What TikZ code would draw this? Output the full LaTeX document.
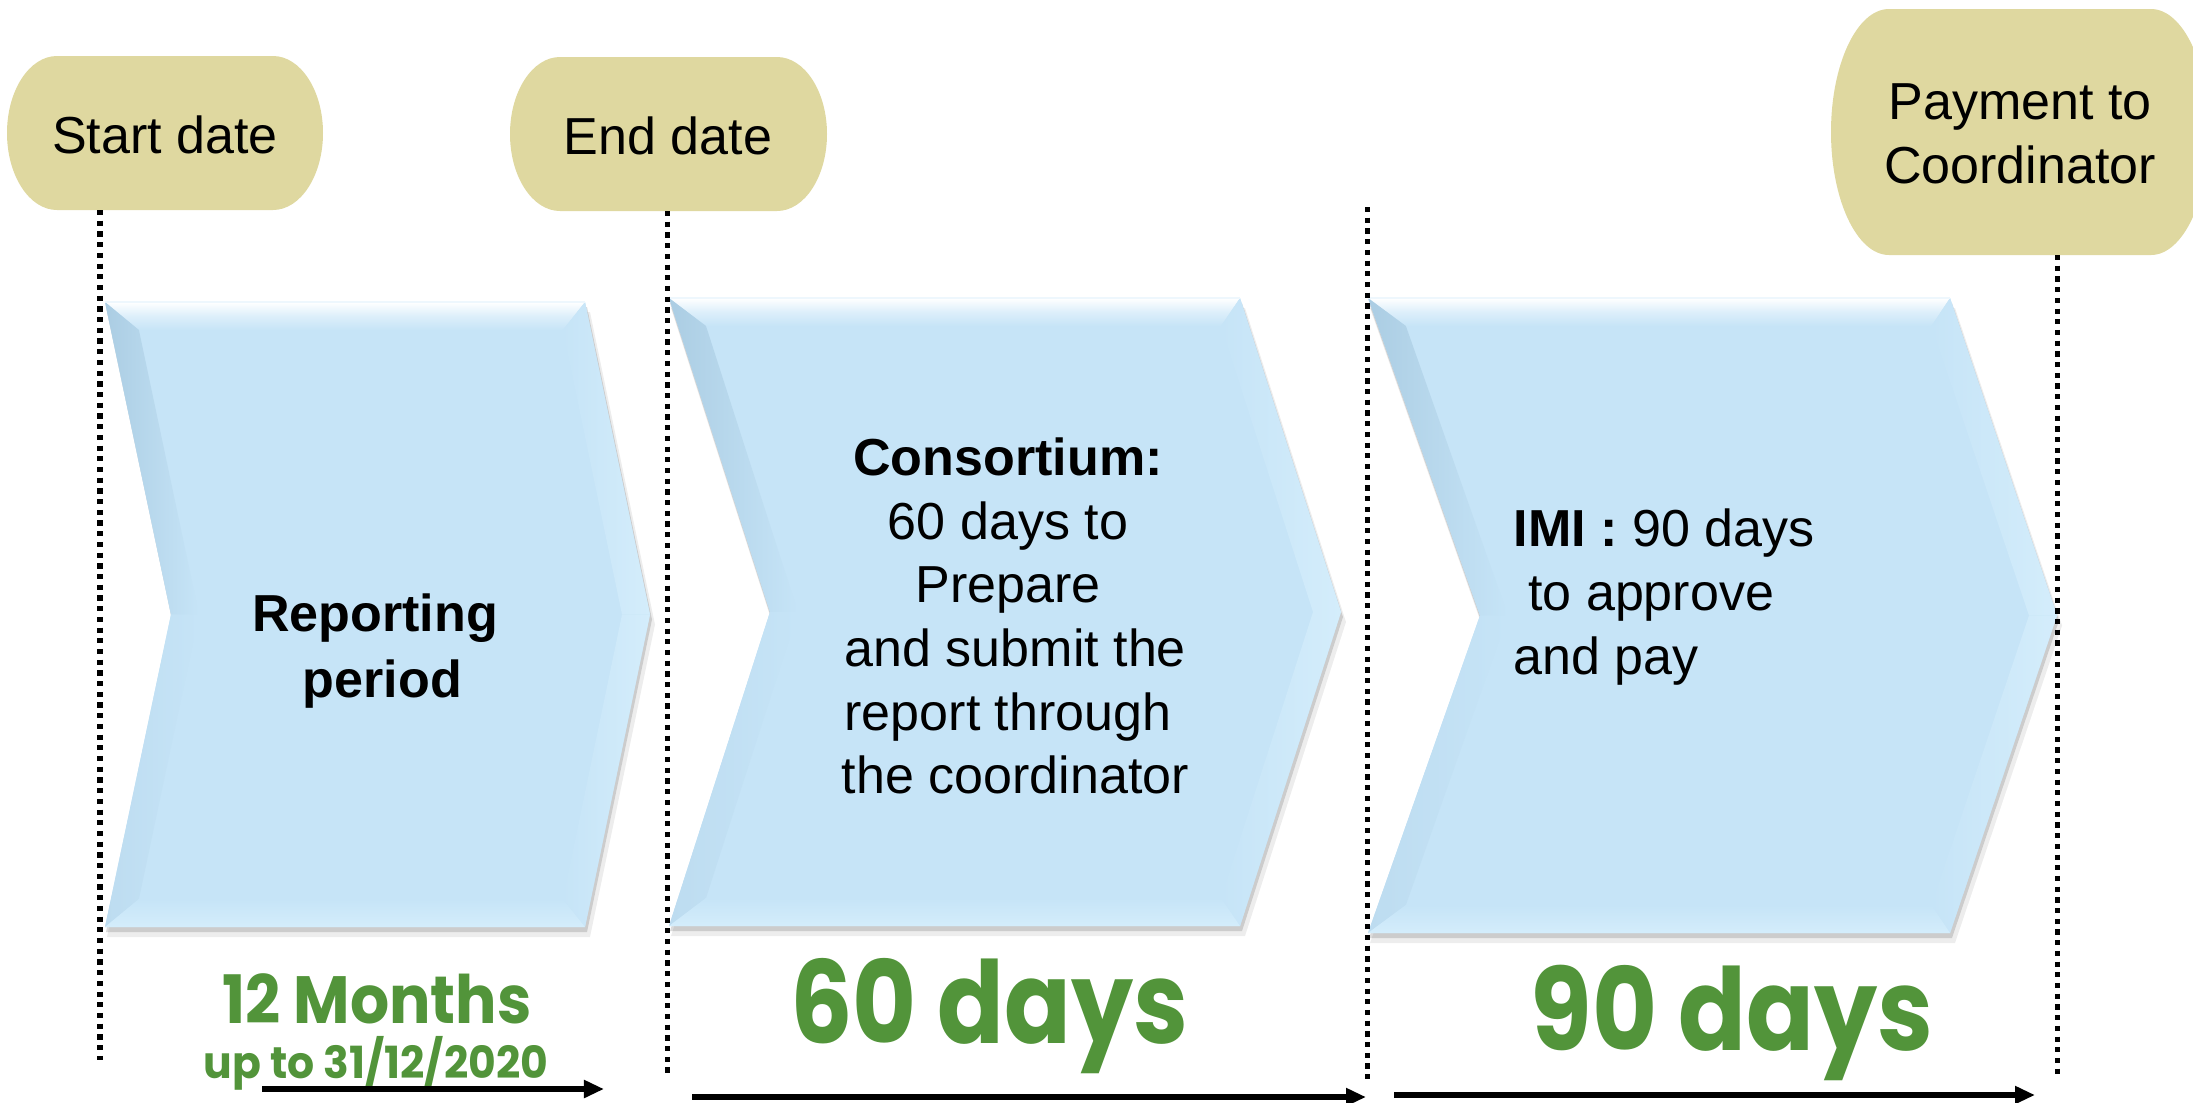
\documentclass[tikz,border=0pt]{standalone}
\usepackage{fontspec}
\setmainfont{Liberation Sans}
\newfontfamily\popfont{Poppins}
\usetikzlibrary{arrows.meta,calc}
\definecolor{capfill}{HTML}{DFD8A0}
\definecolor{chevfill}{HTML}{C6E4F7}
\definecolor{chevdark}{HTML}{ABCDE3}
\definecolor{chevmid}{HTML}{BDDCF0}
\definecolor{chevlight}{HTML}{D4EDFB}
\definecolor{grn}{HTML}{52943A}

% capsule: x0 y0 x1 y1 rx
\newcommand{\mycapsule}[5]{%
  \fill[capfill] (#1+#5,#2) -- (#3-#5,#2)
    arc[start angle=-90,end angle=90,x radius=#5,y radius={(#4-#2)/2}]
    -- (#1+#5,#4)
    arc[start angle=90,end angle=270,x radius=#5,y radius={(#4-#2)/2}] -- cycle;
}
% chevron: x0 y0 x1 y1 notchdepth tipdepth
\newcommand{\mychev}[6]{%
  \pgfmathsetmacro{\chYm}{(#2+#4)/2}%
  \pgfmathsetmacro{\chHh}{(#4-#2)/2}%
  \pgfmathsetmacro{\chBv}{28}%
  \pgfmathsetmacro{\chLo}{\chBv+#5*\chBv/\chHh}%
  \pgfmathsetmacro{\chRo}{#6*\chBv/\chHh-\chBv}%
  \fill[black,opacity=0.07] (#1+2,#2+10) -- (#3+5,#2+10) -- (#3+#6+5,\chYm+10) -- (#3+5,#4+10) -- (#1+2,#4+10) -- (#1+#5+2,\chYm+10) -- cycle;
  \fill[black,opacity=0.14] (#1+1,#2+5) -- (#3+2,#2+5) -- (#3+#6+2,\chYm+5) -- (#3+2,#4+5) -- (#1+1,#4+5) -- (#1+#5+1,\chYm+5) -- cycle;
  \fill[chevfill] (#1,#2) -- (#3,#2) -- (#3+#6,\chYm) -- (#3,#4) -- (#1,#4) -- (#1+#5,\chYm) -- cycle;
  \shade[top color=white, bottom color=chevfill, middle color=white!40!chevfill] (#1,#2) -- (#3,#2) -- (#3+\chRo,#2+\chBv) -- (#1+\chLo,#2+\chBv) -- cycle;
  \shade[left color=chevdark, right color=chevfill] (#1,#2) -- (#1+\chLo,#2+\chBv) -- (#1+#5+\chBv,\chYm) -- (#1+#5,\chYm) -- cycle;
  \shade[left color=chevmid, right color=chevfill] (#1+#5,\chYm) -- (#1+#5+\chBv,\chYm) -- (#1+\chLo,#4-\chBv) -- (#1,#4) -- cycle;
  \shade[left color=chevfill, right color=chevlight] (#3,#2) -- (#3+#6,\chYm) -- (#3+#6-\chBv,\chYm) -- (#3+\chRo,#2+\chBv) -- cycle;
  \shade[left color=chevfill, right color=chevlight] (#3+#6,\chYm) -- (#3,#4) -- (#3+\chRo,#4-\chBv) -- (#3+#6-\chBv,\chYm) -- cycle;
  \shade[top color=chevfill, bottom color=chevlight] (#1,#4) -- (#3,#4) -- (#3+\chRo,#4-\chBv) -- (#1+\chLo,#4-\chBv) -- cycle;
  \draw[white!70!chevfill, line width=0.02cm] (#1,#2) -- (#3,#2);
}

\begin{document}
\begin{tikzpicture}[x=0.01cm,y=-0.01cm,
  dotline/.style={line width=0.05cm, dash pattern=on 0.052cm off 0.055cm},
  tarrow/.style={line width=0.06cm, -{Triangle[length=0.2cm,width=0.17cm]}},
  captext/.style={font=\fontsize{14.8pt}{18.2pt}\selectfont, align=center, inner sep=0pt},
  chevtext/.style={font=\fontsize{14.8pt}{18.1pt}\selectfont, inner sep=0pt},
  grnlbl/.style={text=grn, inner sep=0pt, anchor=base},
]
\path[use as bounding box] (0,0) rectangle (2193,1102);
\clip (0,0) rectangle (2193,1102);

% capsules
\mycapsule{7}{56}{323}{210}{50}
\mycapsule{510}{57}{827}{211}{50}
\mycapsule{1831}{9}{2209}{255}{58}
\node[captext, minimum width=3.16cm, minimum height=1.54cm] (start) at (165,135) {Start date};
\node[captext, minimum width=3.17cm, minimum height=1.54cm] (end) at (668,136) {End date};
\node[captext] (pay) at (2020,134) {Payment to\\Coordinator};

% chevrons
\mychev{105}{302}{585}{927}{66}{65}
\mychev{669}{298}{1240}{926}{101}{101}
\mychev{1368}{298}{1950}{933}{112}{107}

\node[chevtext, font=\fontsize{14.8pt}{18.8pt}\selectfont\bfseries, align=center] (rep) at (375,651) {Reporting\\\hspace*{0.28em}period};
\node[chevtext, align=center] (cons) at (1008,616) {\textbf{Consortium:}\\60 days to\\Prepare\\\hspace*{0.28em}and submit the\\report through\\\hspace*{0.28em}the coordinator};
\node[chevtext, align=left, anchor=west] (imi) at (1513,597) {\textbf{IMI :} 90 days\\\hspace*{0.28em}to approve\\and pay};

% dotted lines
\coordinate (v1a) at (100,210); \coordinate (v1b) at (100,1060);
\coordinate (v2a) at (667,211); \coordinate (v2b) at (667,1078);
\coordinate (v3a) at (1367,207); \coordinate (v3b) at (1367,1083);
\coordinate (v4a) at (2057,255); \coordinate (v4b) at (2057,1075);
\draw[dotline] (v1a) -- (v1b);
\draw[dotline] (v2a) -- (v2b);
\draw[dotline] (v3a) -- (v3b);
\draw[dotline] (v4a) -- (v4b);

% green labels
\node[grnlbl, font=\popfont\bfseries\fontsize{19pt}{19pt}\selectfont] (m12) at (377,1023) {\scalebox{0.92}[1]{12 Months}};
\node[grnlbl, font=\popfont\bfseries\fontsize{12.6pt}{12.6pt}\selectfont] (upto) at (376,1078) {\scalebox{0.96}[1]{up to 31/12/2020}};
\node[grnlbl, font=\popfont\bfseries\fontsize{32.5pt}{32.5pt}\selectfont] (d60) at (989,1043) {\scalebox{0.86}[1]{60 days}};
\node[grnlbl, font=\popfont\bfseries\fontsize{32.5pt}{32.5pt}\selectfont] (d90) at (1732,1050) {\scalebox{0.875}[1]{90 days}};

% arrows
\coordinate (a1a) at (262,1089); \coordinate (a1b) at (604,1089);
\coordinate (a2a) at (692,1097); \coordinate (a2b) at (1366,1097);
\coordinate (a3a) at (1394,1095); \coordinate (a3b) at (2035,1095);
\draw[tarrow] (a1a) -- (a1b);
\draw[tarrow] (a2a) -- (a2b);
\draw[tarrow] (a3a) -- (a3b);
\end{tikzpicture}
\end{document}
